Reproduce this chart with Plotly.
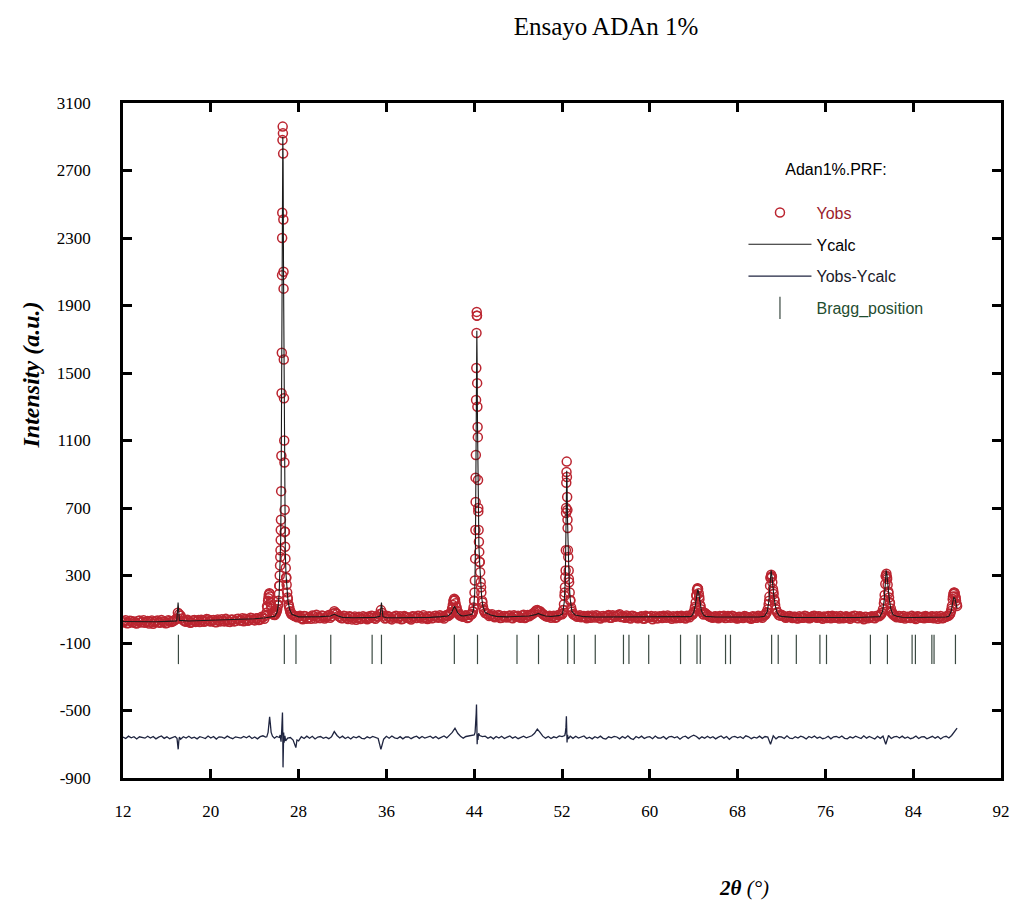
import plotly.graph_objects as go

# ---------------- DATA ----------------
# Observed pattern: two interleaved scan grids (start, step) + denser points over the peaks
SCAN_START = 12.0
SCAN_STEP = 0.25
SCAN_START_B = 12.125
obs_grid = [
    22, 35, 18, 30,   27, 15, 33, 24,   20, 31, 26, 14,   29, 22, 36, 25,   # 12-15
    18, 30, 27, 38,   80, 62, 34, 26,   31, 22, 37, 28,   24, 35, 29, 40,   # 16-19
    27, 36, 23, 33,   41, 28, 35, 25,   38, 30, 44, 33,   29, 41, 36, 46,   # 20-23
    34, 47, 39, 52,   62, 165, 120, 68, 90, 240, 2300, 560, 170, 86, 65, 58, # 24-27
    55, 47, 60, 44,   52, 63, 45, 57,   48, 60, 52, 66,   58, 88, 72, 55,   # 28-31
    47, 59, 42, 55,   50, 38, 56, 45,   53, 41, 48, 60,   44, 57, 95, 62,   # 32-35
    48, 56, 40, 52,   46, 58, 43, 55,   51, 39, 57, 48,   60, 45, 53, 42,   # 36-39
    56, 48, 62, 50,   58, 45, 66, 72,   105, 155, 85, 62, 55, 64, 52, 70,   # 40-43
    150, 1840, 380, 140, 78, 72, 64, 58, 55, 66, 49, 60, 52, 63, 47, 58,  # 44-47
    61, 50, 67, 54,   58, 70, 82, 95,   88, 72, 60, 55,   49, 62, 53, 66,   # 48-51
    70, 200, 630, 155, 72, 63, 58, 52,  60, 47, 56, 63,   51, 58, 45, 60,   # 52-55
    54, 66, 50, 58,   62, 70, 58, 49,   57, 45, 60, 52,   48, 59, 44, 56,   # 56-59
    53, 41, 58, 47,   55, 62, 49, 57,   44, 53, 60, 48,   56, 45, 58, 66,   # 60-63
    80, 185, 175, 84, 80, 66, 55, 50,   58, 47, 53, 61,   49, 56, 62, 52,   # 64-67
    45, 54, 48, 57,   52, 43, 56, 49,   58, 50, 66, 100,  285, 205, 100, 66, # 68-71
    68, 57, 52, 60,   48, 56, 45, 53,   50, 58, 46, 55,   61, 49, 57, 44,   # 72-75
    52, 60, 47, 55,   58, 45, 53, 49,   56, 43, 52, 60,   47, 55, 41, 54,   # 76-79
    50, 58, 46, 62,   64, 100, 295, 195, 80, 64, 52, 60, 52, 45, 56, 48,   # 80-83
    54, 42, 57, 50,   46, 55, 49, 58,   52, 44, 60, 48,   55, 62, 105, 198, # 84-87
    120,                                                                   # 88
]
obs_grid_b = [
    28, 17, 32, 21,   19, 30, 22, 35,   26, 16, 34, 23,   33, 20, 28, 17,   # 12-15
    35, 24, 31, 44,   70, 45, 29, 38,   20, 34, 25, 36,   38, 26, 42, 30,   # 16-19
    35, 24, 40, 28,   30, 43, 26, 39,   28, 42, 34, 47,   44, 32, 50, 38,   # 20-23
    45, 36, 55, 44,   118, 190, 78, 72, 128, 570, 2100, 285, 118, 70, 60, 52, # 24-27
    62, 41, 58, 50,   44, 58, 68, 48,   63, 45, 59, 50,   75, 80, 60, 48,   # 28-31
    62, 50, 58, 40,   57, 48, 42, 59,   46, 57, 62, 50,   58, 70, 78, 45,   # 32-35
    60, 45, 55, 61,   50, 41, 60, 49,   45, 58, 50, 62,   52, 64, 47, 58,   # 36-39
    46, 60, 54, 65,   52, 62, 60, 80,   150, 112, 68, 58, 62, 48, 66, 85,   # 40-43
    880, 680, 230, 95, 74, 60, 70, 52,  63, 48, 58, 52,   60, 50, 64, 55,   # 44-47
    52, 63, 48, 66,   64, 75, 92, 90,   80, 66, 57, 62,   58, 50, 64, 72,   # 48-51
    96, 700, 280, 95, 66, 55, 64, 58,   52, 62, 50, 57,   64, 50, 59, 53,   # 52-55
    61, 49, 64, 55,   66, 54, 52, 63,   50, 62, 55, 47,   56, 45, 62, 52,   # 56-59
    60, 52, 46, 59,   48, 56, 63, 51,   58, 47, 55, 62,   50, 62, 52, 68,   # 60-63
    115, 222, 118, 70, 72, 60, 52, 57,  52, 60, 57, 48,   60, 50, 58, 47,   # 64-67
    56, 49, 60, 52,   47, 58, 50, 61,   55, 62, 80, 150,  292, 150, 80, 62,  # 68-71
    62, 50, 59, 53,   55, 47, 58, 50,   61, 52, 48, 60,   53, 58, 50, 57,   # 72-75
    48, 55, 62, 50,   51, 60, 47, 58,   49, 57, 61, 48,   58, 50, 55, 47,   # 76-79
    56, 49, 60, 58,   76, 155, 280, 140, 72, 58, 60, 50, 60, 52, 49, 61,   # 80-83
    47, 58, 52, 55,   60, 50, 57, 47,   58, 53, 47, 56,   60, 75, 175, 165, # 84-87
]

obs_peak_tt = [
    25.08, 25.16, 25.22, 25.28, 25.34, 25.40, 25.46, 25.52, 25.60, 25.70,
    25.83, 25.91, 25.98, 26.05, 26.11, 26.16, 26.21, 26.25, 26.28, 26.31,
    26.33, 26.35, 26.37, 26.39, 26.41, 26.43, 26.45, 26.47, 26.49, 26.51,
    26.53, 26.55, 26.57, 26.59, 26.61, 26.63, 26.65, 26.67, 26.69, 26.71,
    26.73, 26.75, 26.77, 26.80, 26.83, 26.87, 26.91, 26.96, 27.02, 27.09,
    27.17, 27.25, 27.33,
    41.80, 41.90, 41.98, 42.05, 42.12, 42.18, 42.24, 42.30, 42.38, 42.46, 42.56, 42.68,
    43.80, 43.88, 43.94, 43.99, 44.03, 44.06, 44.09, 44.11, 44.13, 44.15,
    44.17, 44.19, 44.21, 44.23, 44.25, 44.27, 44.29, 44.31, 44.33, 44.35,
    44.37, 44.40, 44.43, 44.46, 44.50, 44.54, 44.59, 44.65, 44.72, 44.80, 44.90,
    52.05, 52.12, 52.18, 52.23, 52.27, 52.30, 52.33, 52.35, 52.37, 52.39,
    52.41, 52.43, 52.45, 52.47, 52.49, 52.51, 52.54, 52.57, 52.61, 52.65,
    52.70, 52.76, 52.83, 52.90,
    63.92, 64.02, 64.10, 64.18, 64.24, 64.30, 64.35, 64.40, 64.46, 64.52,
    64.58, 64.66, 64.88,
    70.55, 70.65, 70.83, 70.90, 70.96, 71.01, 71.06, 71.11, 71.16, 71.22,
    71.28, 71.34, 71.42, 71.60,
    81.05, 81.15, 81.33, 81.40, 81.46, 81.51, 81.56, 81.61, 81.67, 81.73,
    81.80, 81.88, 81.96, 82.05, 82.15,
    87.35, 87.45, 87.53, 87.60, 87.66, 87.72, 87.78, 87.84, 87.90, 87.96,
]
obs_peak_y = [
    80, 110, 150, 185, 195, 175, 140, 105, 80, 68,
    66, 74, 85, 100, 122, 150, 190, 240, 300, 360,
    410, 450, 510, 630, 800, 1010, 1380, 1620, 2080, 2450,
    2880, 2960, 2920, 2800, 2410, 2000, 1580, 1350, 1100, 970,
    690, 560, 470, 400, 345, 290, 245, 200, 160, 128,
    104, 86, 72,
    68, 82, 100, 125, 150, 162, 155, 135, 110, 90, 75, 64,
    72, 88, 110, 150, 200, 270, 400, 570, 736, 1014,
    1340, 1530, 1737, 1862, 1840, 1440, 1300, 1180, 1120, 866,
    700, 570, 500, 440, 380, 320, 260, 200, 150, 115, 90,
    75, 95, 130, 180, 230, 290, 330, 450, 670, 850,
    913, 975, 884, 765, 688, 581, 450, 410, 330, 260,
    200, 150, 110, 85,
    70, 85, 105, 140, 180, 215, 225, 220, 195, 160,
    125, 100, 70,
    70, 82, 130, 175, 240, 290, 305, 295, 260, 220,
    190, 160, 125, 82,
    68, 80, 135, 185, 250, 300, 310, 290, 245, 205,
    170, 135, 105, 85, 70,
    72, 90, 120, 160, 190, 200, 195, 175, 150, 130,
]

# Calculated profile (Ycalc)
calc_tt = [
    12.0, 13.0, 14.0, 15.0, 16.0, 16.9, 17.02, 17.14, 18.0, 19.0, 20.0, 21.0,
    22.0, 23.0, 24.0, 25.0, 25.5,
    25.83, 26.03, 26.13, 26.23, 26.29, 26.33, 26.37, 26.41, 26.45, 26.49,
    26.53, 26.56, 26.59, 26.63, 26.67, 26.71, 26.75, 26.79, 26.85, 26.93,
    27.03, 27.18, 27.38,
    28.0, 29.0, 30.0, 30.9, 31.25, 31.6, 32.0, 33.0, 34.0, 35.0, 35.42, 35.55,
    35.68, 36.0, 37.0, 38.0, 39.0, 40.0, 41.0, 41.6,
    41.9, 42.05, 42.2, 42.35, 42.5, 42.8, 43.0, 43.5,
    43.8, 43.95, 44.05, 44.11, 44.15, 44.19, 44.22, 44.24, 44.27, 44.30,
    44.34, 44.38, 44.43, 44.50, 44.58, 44.68, 44.80, 45.0, 45.5,
    46.0, 47.0, 48.0, 49.0, 49.6, 49.85, 50.1, 50.5, 51.0, 51.7,
    52.05, 52.2, 52.3, 52.36, 52.40, 52.43, 52.46, 52.50, 52.56, 52.64,
    52.74, 52.9, 53.2,
    54.0, 55.0, 56.0, 57.0, 58.0, 59.0, 60.0, 61.0, 62.0, 63.0, 63.6,
    63.8, 64.0, 64.15, 64.3, 64.37, 64.45, 64.55, 64.7, 64.9, 65.1,
    66.0, 67.0, 68.0, 69.0, 70.0,
    70.45, 70.7, 70.85, 70.95, 71.05, 71.12, 71.2, 71.3, 71.45, 71.6, 71.8,
    72.0, 73.0, 74.0, 75.0, 76.0, 77.0, 78.0, 79.0, 80.0, 80.7,
    80.95, 81.2, 81.35, 81.45, 81.53, 81.6, 81.7, 81.8, 81.95, 82.15, 82.5,
    83.0, 84.0, 85.0, 86.0, 87.0,
    87.25, 87.45, 87.6, 87.7, 87.8, 87.9, 88.0,
]
calc_y = [
    27, 26, 25, 26, 28, 31, 140, 34, 30, 32, 32, 34,
    37, 40, 44, 50, 55,
    58, 80, 115, 190, 290, 390, 520, 820, 1400, 2100,
    2750, 2900, 2750, 2050, 1380, 950, 600, 430, 310, 220,
    150, 100, 70,
    55, 54, 56, 60, 70, 60, 52, 50, 50, 52, 58, 140,
    56, 50, 50, 50, 50, 52, 56, 60,
    75, 100, 118, 100, 78, 62, 60, 66,
    70, 100, 200, 450, 850, 1350, 1700, 1750, 1550, 1200,
    850, 600, 470, 370, 260, 170, 115, 80, 66,
    58, 55, 56, 60, 68, 75, 68, 60, 57, 62,
    72, 140, 270, 520, 800, 920, 860, 640, 440, 285,
    165, 88, 66,
    56, 54, 54, 56, 54, 52, 52, 52, 52, 53, 56,
    58, 80, 125, 205, 218, 200, 140, 90, 65, 58,
    54, 53, 52, 52, 54,
    58, 85, 150, 230, 330, 300, 240, 180, 115, 80, 62,
    58, 52, 51, 51, 51, 51, 51, 51, 52, 54,
    56, 85, 150, 240, 330, 310, 230, 170, 105, 68, 58,
    53, 51, 52, 52, 54,
    58, 85, 140, 170, 165, 130, 105,
]

# Difference curve (Yobs - Ycalc), plotted with a constant vertical offset
DIFF_OFFSET = -660
diff_grid = [
    3, -6, 8, -2,     5, -9, 4, 0,      -4, 7, -3, 6,     -8, 2, 9, -5,     # 12-15
    4, -7, 1, 6,      -50, -10, 5, -3,  7, -4, 2, -8,     5, 0, -6, 9,      # 16-19
    -3, 6, -9, 4,     2, -5, 8, -1,     -7, 4, 1, -4,     6, -2, 9, -6,     # 20-23
    3, -8, 5, 10,     2, 55, 30, -2,    6, 0, 100, 10,    -3, 0, -15, -60,  # 24-27
    -20, 5, -6, 8,    -4, 7, -9, 3,     6, -5, 2, -7,     4, 35, 12, -3,    # 28-31
    8, -6, 3, -9,     5, -2, 7, -5,     -8, 4, -3, 6,     2, -6, -70, -10,  # 32-35
    7, -4, 9, -2,     -6, 5, -8, 3,     4, -7, 2, 8,      -5, 6, -3, 5,     # 36-39
    8, -4, 6, -7,     3, 9, -2, 12,     30, 55, 25, 8,    -4, 6, 10, 15,    # 40-43
    15, 80, 12, 5,    8, -5, 4, -8,     6, -3, 7, -6,     2, 9, -4, 5,      # 44-47
    -7, 3, 8, -2,     5, 10, 25, 50,    30, 8, -4, 6,     -6, 4, -2, 9,     # 48-51
    5, 12, 15, 8,     -5, 7, -3, 4,     9, -6, 2, -8,     5, -3, 8, -5,     # 52-55
    -9, 4, -2, 7,     3, -8, 6, -4,     10, -5, -12, 6,   -3, 8, -6, 2,     # 56-59
    5, -7, 9, -3,     -4, 6, -9, 4,     7, -2, 5, -10,    3, 8, -5, 6,      # 60-63
    14, 6, -8, 4,     -5, 7, -3, 5,     -8, 2, 9, -4,     6, -11, 3, 7,     # 64-67
    -2, 5, -6, 10,    4, -7, 2, -3,     8, -5, 6, 3,      -40, 10, -8, 5,   # 68-71
    3, -6, 10, -4,    -7, 5, -3, 8,     2, -9, 6, -2,     9, -4, 3, -7,     # 72-75
    -3, 7, -8, 4,     6, -2, 9, -5,     -8, 4, -3, 8,     3, -6, 10, -4,    # 76-79
    6, -3, -9, 7,     -5, 8, -40, 12,   -6, 4, 7, -3,     8, -5, 3, -7,     # 80-83
    -2, 9, -6, 4,     5, -8, 2, 7,      -4, 6, -9, 3,     7, -3, 12, 35,    # 84-87
    55,                                                                     # 88
]
diff_peak_tt = [
    16.92, 16.98, 17.03, 17.08, 17.14,
    25.10, 25.22, 25.30, 25.36, 25.42, 25.62, 25.80,
    26.32, 26.40, 26.46, 26.53, 26.56, 26.58, 26.61, 26.64, 26.68, 26.82,
    27.65, 27.85,
    44.08, 44.14, 44.18, 44.21, 44.24, 44.27, 44.30, 44.34, 44.40,
    52.30, 52.36, 52.40, 52.43, 52.46, 52.58,
]
diff_peak_y = [
    -5, -30, -70, -25, 2,
    4, 30, 95, 123, 85, 8, -4,
    15, -25, 40, 148, 20, -177, -80, 30, -30, -20,
    -40, -15,
    30, 70, 140, 196, 110, -40, 20, -15, 25,
    25, 60, 126, 70, -30, -8,
]

# Bragg reflection positions (2theta)
bragg_tt = [
    17.05, 26.70, 27.76, 30.93, 34.70, 35.55, 42.19, 44.30, 47.90, 49.86,
    52.52, 53.12, 55.03, 57.60, 58.10, 59.90, 62.80, 64.30, 64.60, 66.90,
    67.35, 71.10, 71.70, 73.35, 75.50, 76.10, 80.10, 81.65, 83.90, 84.20,
    85.70, 85.90, 87.85,
]

x_ticks = [12, 20, 28, 36, 44, 52, 60, 68, 76, 84, 92]
y_ticks = [-900, -500, -100, 300, 700, 1100, 1500, 1900, 2300, 2700, 3100]

# ---------------- STYLE ----------------
BRAGG_LEVEL = -138
OBS_COLOR = "#bb2530"
CALC_COLOR = "#1a1a1a"
DIFF_COLOR = "#1f2540"
BRAGG_COLOR = "#3b4a42"
SERIF = "Liberation Serif"
SANS = "Liberation Sans"

# merge grids + peak points
grid_tt = [SCAN_START + i * SCAN_STEP for i in range(len(obs_grid))]
grid_tt_b = [SCAN_START_B + i * SCAN_STEP for i in range(len(obs_grid_b))]
obs_pts = sorted(zip(grid_tt + grid_tt_b + obs_peak_tt, obs_grid + obs_grid_b + obs_peak_y))
obs_x = [p[0] for p in obs_pts]
obs_y = [p[1] for p in obs_pts]

dgrid_tt = [SCAN_START + i * SCAN_STEP for i in range(len(diff_grid))]
diff_pts = sorted(zip(dgrid_tt + diff_peak_tt, diff_grid + diff_peak_y))
diff_x = [p[0] for p in diff_pts]
diff_y = [p[1] + DIFF_OFFSET for p in diff_pts]

fig = go.Figure()
fig.add_trace(go.Scatter(
    x=obs_x, y=obs_y, mode="markers",
    name="<span style='color:#9b1c2c'>Yobs</span>",
    legendgroup="a",
    marker=dict(symbol="circle-open", size=9, color=OBS_COLOR, line=dict(width=1.5, color=OBS_COLOR)),
))
fig.add_trace(go.Scatter(
    x=calc_tt, y=calc_y, mode="lines", name="Ycalc", legendgroup="b",
    line=dict(color=CALC_COLOR, width=1.1),
))
fig.add_trace(go.Scatter(
    x=diff_x, y=diff_y, mode="lines",
    name="<span style='color:#1a1a2a'>Yobs-Ycalc</span>", legendgroup="c",
    line=dict(color=DIFF_COLOR, width=1.3),
))
fig.add_trace(go.Scatter(
    x=bragg_tt, y=[BRAGG_LEVEL] * len(bragg_tt), mode="markers",
    name="<span style='color:#1f4d30'>Bragg_position</span>", legendgroup="d",
    marker=dict(symbol="line-ns-open", size=21, color=BRAGG_COLOR, line=dict(width=1.2, color=BRAGG_COLOR)),
))

axis_common = dict(
    showline=True, linecolor="black", linewidth=2.5, mirror="ticks",
    ticks="inside", ticklen=9, tickwidth=2.5, tickcolor="black",
    showgrid=False, zeroline=False,
    tickfont=dict(family=SERIF, size=17, color="black"),
)
fig.update_xaxes(range=[12, 92], tickvals=x_ticks, ticktext=[str(v) for v in x_ticks],
                 ticklabelstandoff=16, **axis_common)
fig.update_yaxes(range=[-900, 3100], tickvals=y_ticks, ticktext=[str(v) for v in y_ticks],
                 ticklabelstandoff=26, **axis_common)

L_PX, R_PX, T_PX, B_PX = 123, 1006, 103, 778
PW, PH = R_PX - L_PX, B_PX - T_PX

fig.update_layout(
    width=1022, height=906,
    margin=dict(l=L_PX, r=1022 - R_PX, t=T_PX, b=906 - B_PX),
    paper_bgcolor="white", plot_bgcolor="white",
    title=dict(text="Ensayo ADAn 1%", x=606 / 1022, xanchor="center",
               y=1 - 26 / 906, yanchor="middle",
               font=dict(family=SERIF, size=25, color="black")),
    showlegend=True,
    legend=dict(
        x=(747 - L_PX) / PW, y=(B_PX - 154) / PH, xanchor="left", yanchor="top",
        bgcolor="rgba(0,0,0,0)", borderwidth=0,
        font=dict(family=SANS, size=16, color="black"),
        title=dict(text="Adan1%.PRF:<br> ", side="top center",
                   font=dict(family=SANS, size=16, color="black")),
        traceorder="grouped", tracegroupgap=8, itemwidth=63, itemsizing="trace",
    ),
    annotations=[
        dict(text="<b><i>Intensity (a.u.)</i></b>", xref="paper", yref="paper",
             x=(30 - L_PX) / PW, y=(B_PX - 375) / PH, textangle=-90, showarrow=False,
             xanchor="center", yanchor="middle",
             font=dict(family=SERIF, size=24, color="black")),
        dict(text="<b><i>2θ</i></b> <i>(°)</i>", xref="paper", yref="paper",
             x=(748 - L_PX) / PW, y=(B_PX - 888) / PH, showarrow=False,
             xanchor="center", yanchor="middle",
             font=dict(family=SERIF, size=21, color="black")),
    ],
)

fig.write_html("out.html")
